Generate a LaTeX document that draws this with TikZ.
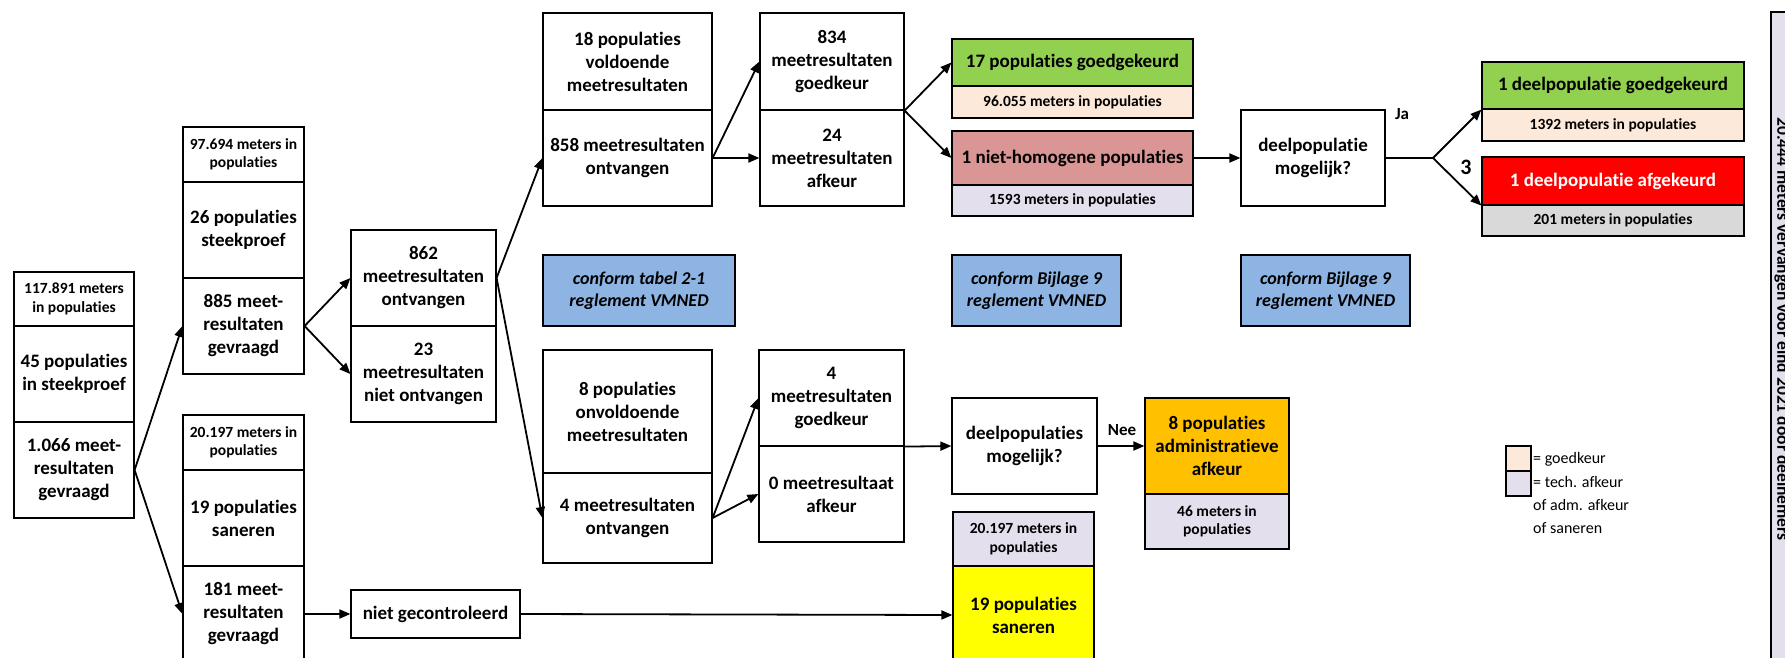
\documentclass[tikz,border=0pt]{standalone}
\usepackage{fontspec}
\setmainfont{Carlito}[Ligatures={NoCommon}]
\usepackage{xcolor}
\usepackage{tikz}
\usetikzlibrary{arrows.meta}
\definecolor{okgreen}{HTML}{92D050}
\definecolor{peach}{HTML}{FDE9D9}
\definecolor{rose}{HTML}{DA9694}
\definecolor{lavender}{HTML}{E4DFEC}
\definecolor{okred}{HTML}{FF0000}
\definecolor{lgrey}{HTML}{D9D9D9}
\definecolor{vmblue}{HTML}{8EB4E3}
\definecolor{amber}{HTML}{FFC000}
\definecolor{lemon}{HTML}{FFFF00}

\begin{document}
\begin{tikzpicture}[x=1pt,y=-1pt]
	\tikzstyle{cell}=[draw=black,line width=1.2pt,inner sep=2pt,align=center,font=\bfseries\fontsize{19}{23}\selectfont]
	\tikzstyle{metercell}=[cell,font=\bfseries\fontsize{15.5}{18.5}\selectfont]
	\tikzstyle{rulebox}=[cell,fill=vmblue,font=\bfseries\itshape\fontsize{18}{22}\selectfont]
	\tikzstyle{arrow}=[line width=1.8pt,-{Triangle[length=11pt,width=9pt]}]
	\tikzstyle{tag}=[font=\bfseries\fontsize{17}{20}\selectfont]
	\useasboundingbox (0,0) rectangle (1785,658);
	\clip (0,0) rectangle (1785,658);

	\node[metercell,minimum width=120pt,minimum height=54pt](a1) at (74,299){117.891 meters\\in populaties};
	\node[cell,minimum width=120pt,minimum height=96pt](a2) at (74,374){45 populaties\\in steekproef};
	\node[cell,minimum width=120pt,minimum height=96pt](a3) at (74,470){1.066 meet-\\resultaten\\gevraagd};

	\node[metercell,minimum width=121pt,minimum height=55pt](b1) at (243.5,154.5){97.694 meters in\\populaties};
	\node[cell,minimum width=121pt,minimum height=96pt](b2) at (243.5,230){26 populaties\\steekproef};
	\node[cell,minimum width=121pt,minimum height=96pt](b3) at (243.5,326){885 meet-\\resultaten\\gevraagd};

	\node[metercell,minimum width=121pt,minimum height=55pt](c1) at (243.5,442.5){20.197 meters in\\populaties};
	\node[cell,minimum width=121pt,minimum height=96pt](c2) at (243.5,518){19 populaties\\saneren};
	\node[cell,minimum width=121pt,minimum height=96pt](c3) at (243.5,614){181 meet-\\resultaten\\gevraagd};

	\node[cell,minimum width=145pt,minimum height=96pt](d1) at (423.5,278){862\\meetresultaten\\ontvangen};
	\node[cell,minimum width=145pt,minimum height=96pt](d2) at (423.5,374){23\\meetresultaten\\niet ontvangen};

	\node[cell,minimum width=169pt,minimum height=97pt](e1) at (627.5,61.5){18 populaties\\voldoende\\meetresultaten};
	\node[cell,minimum width=169pt,minimum height=96pt](e2) at (627.5,158){858 meetresultaten\\ontvangen};
	\node[cell,minimum width=144pt,minimum height=97pt](f1) at (832,61.5){834\\meetresultaten\\goedkeur};
	\node[cell,minimum width=144pt,minimum height=96pt](f2) at (832,158){24\\meetresultaten\\afkeur};

	\node[cell,fill=okgreen,minimum width=241pt,minimum height=47pt](g1) at (1072.5,62.5){17 populaties goedgekeurd};
	\node[metercell,fill=peach,minimum width=241pt,minimum height=32pt](g2) at (1072.5,102){96.055 meters in populaties};
	\node[cell,fill=rose,minimum width=241pt,minimum height=54pt](h1) at (1072.5,158){1 niet-homogene populaties};
	\node[metercell,fill=lavender,minimum width=241pt,minimum height=31pt](h2) at (1072.5,200.5){1593 meters in populaties};

	\node[cell,minimum width=144pt,minimum height=96pt](i1) at (1313,158){deelpopulatie\\mogelijk?};
	\coordinate (split) at (1433,158);

	\node[cell,fill=okgreen,minimum width=262pt,minimum height=47pt](j1) at (1613,85.5){1 deelpopulatie goedgekeurd};
	\node[metercell,fill=peach,minimum width=262pt,minimum height=32pt](j2) at (1613,125){1392 meters in populaties};
	\node[cell,fill=okred,text=white,minimum width=262pt,minimum height=48pt](k1) at (1613,181){1 deelpopulatie afgekeurd};
	\node[metercell,fill=lgrey,minimum width=262pt,minimum height=31pt](k2) at (1613,220.5){201 meters in populaties};

	\node[rulebox,minimum width=192pt,minimum height=71pt](n1) at (639,290.5){conform tabel 2-1\\reglement VMNED};
	\node[rulebox,minimum width=169pt,minimum height=71pt](n2) at (1036.5,290.5){conform Bijlage 9\\reglement VMNED};
	\node[rulebox,minimum width=169pt,minimum height=71pt](n3) at (1325.5,290.5){conform Bijlage 9\\reglement VMNED};

	\node[cell,minimum width=169pt,minimum height=123pt](le1) at (627.5,411.5){8 populaties\\onvoldoende\\meetresultaten};
	\node[cell,minimum width=169pt,minimum height=90pt](le2) at (627.5,518){4 meetresultaten\\ontvangen};
	\node[cell,minimum width=145pt,minimum height=96pt](lf1) at (831.5,398){4\\meetresultaten\\goedkeur};
	\node[cell,minimum width=145pt,minimum height=96pt](lf2) at (831.5,494){0 meetresultaat\\afkeur};

	\node[cell,minimum width=145pt,minimum height=96pt](m1) at (1024.5,446){deelpopulaties\\mogelijk?};
	\node[cell,fill=amber,minimum width=144pt,minimum height=96pt](o1) at (1217,446){8 populaties\\administratieve\\afkeur};
	\node[metercell,fill=lavender,minimum width=144pt,minimum height=55pt](o2) at (1217,521.5){46 meters in\\populaties};

	\node[cell,minimum width=169pt,minimum height=48pt](ng) at (435.5,614){niet gecontroleerd};
	\node[metercell,fill=lavender,minimum width=141pt,minimum height=54pt](y1) at (1023.5,539){20.197 meters in\\populaties};
	\node[cell,fill=lemon,minimum width=141pt,minimum height=98pt](y2) at (1023.5,615){19 populaties\\saneren};

	\node[tag](ja) at (1402,114){Ja};
	\node[tag,font=\bfseries\fontsize{22}{24}\selectfont](drie) at (1466,167){3};
	\node[tag](nee) at (1122,430){Nee};

	\node[draw=black,fill=peach,line width=1.2pt,inner sep=0pt,minimum size=25pt](lg1) at (1518.5,458.5){};
	\node[draw=black,fill=lavender,line width=1.2pt,inner sep=0pt,minimum size=25pt](lg2) at (1518.5,483.5){};
	\node[anchor=west,inner sep=0pt,font=\fontsize{16}{23}\selectfont](lt1) at (1533,459){= goedkeur};
	\node[anchor=north west,inner sep=0pt,align=left,font=\fontsize{16}{23}\selectfont](lt2) at (1533,476){= tech. afkeur\\of adm. afkeur\\of saneren};

	\draw[fill=lavender,line width=1.2pt] (1771,12) rectangle (1820,700);
	\node[rotate=-90,font=\bfseries\fontsize{17.5}{20}\selectfont](side) at (1782,329){20.444 meters vervangen voor eind 2021 door deelnemers};

	\draw[line width=1.8pt] (i1.east) -- (split);
	\path[arrow]
		(a3.east) edge (b3.west)
		(a3.east) edge (c3.west)
		(b3.east) edge (d1.west)
		(b3.east) edge (d2.west)
		(d1.east) edge (e2.west)
		(d1.east) edge (le2.west)
		(e2.east) edge (f1.west)
		(e2.east) edge (f2.west)
		(f1.south east) edge (g1.west)
		(f1.south east) edge (h1.west)
		(h1.east) edge (i1.west)
		(split) edge (j1.south west)
		(split) edge (k1.south west)
		(le2.east) edge (lf1.west)
		(le2.east) edge (lf2.west)
		(lf1.south east) edge (m1.west)
		(m1.east) edge (o1.west)
		(c3.east) edge (ng.west)
		(ng.east) edge (y2.west);
\end{tikzpicture}
\end{document}
